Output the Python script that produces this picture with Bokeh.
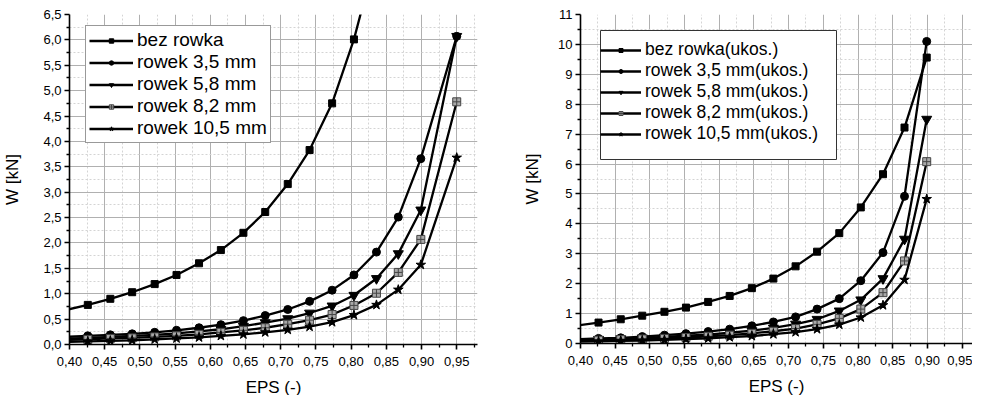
from bokeh.plotting import figure
from bokeh.models import (FixedTicker, Legend, LegendItem, ColumnDataSource,
                          BoxAnnotation, Range1d, CustomJSTickFormatter)
from bokeh.layouts import row
from bokeh.embed import file_html
from bokeh.resources import INLINE

FONT = "Liberation Sans"

# ---------------- data ----------------
eps_left = [0.395, 0.426, 0.458, 0.489, 0.521, 0.552, 0.584, 0.615, 0.647,
            0.678, 0.710, 0.741, 0.773, 0.804, 0.836, 0.867, 0.899, 0.950]
bez_rowka = [0.68, 0.78, 0.90, 1.03, 1.19, 1.37, 1.60, 1.86, 2.20, 2.61,
             3.16, 3.83, 4.75, 6.01, 7.70]
rowek_35 = [0.15, 0.17, 0.19, 0.21, 0.24, 0.28, 0.33, 0.39, 0.47, 0.57,
            0.69, 0.85, 1.07, 1.37, 1.82, 2.51, 3.66, 6.07]
rowek_58 = [0.11, 0.13, 0.15, 0.17, 0.19, 0.22, 0.26, 0.30, 0.36, 0.43,
            0.51, 0.62, 0.76, 0.97, 1.30, 1.79, 2.65, 6.07]
rowek_82 = [0.09, 0.10, 0.12, 0.13, 0.15, 0.17, 0.20, 0.24, 0.28, 0.33,
            0.40, 0.48, 0.59, 0.77, 1.01, 1.42, 2.07, 4.78]
rowek_105 = [0.05, 0.06, 0.07, 0.08, 0.10, 0.12, 0.14, 0.17, 0.20, 0.24,
             0.29, 0.35, 0.44, 0.58, 0.78, 1.08, 1.57, 3.68]

eps_right = [0.395, 0.426, 0.458, 0.489, 0.521, 0.552, 0.584, 0.615, 0.647,
             0.678, 0.710, 0.741, 0.773, 0.804, 0.836, 0.867, 0.899]
bez_rowka_u = [0.60, 0.70, 0.81, 0.93, 1.06, 1.20, 1.39, 1.59, 1.85, 2.17,
               2.58, 3.07, 3.69, 4.55, 5.66, 7.22, 9.56]
rowek_35_u = [0.14, 0.17, 0.19, 0.23, 0.28, 0.33, 0.40, 0.48, 0.59, 0.72,
              0.89, 1.15, 1.50, 2.10, 3.04, 4.92, 10.10]
rowek_58_u = [0.12, 0.14, 0.16, 0.19, 0.22, 0.26, 0.30, 0.36, 0.43, 0.52,
              0.65, 0.81, 1.09, 1.46, 2.17, 3.49, 7.50]
rowek_82_u = [0.10, 0.11, 0.13, 0.15, 0.17, 0.20, 0.24, 0.28, 0.34, 0.41,
              0.50, 0.64, 0.84, 1.15, 1.70, 2.76, 6.08]
rowek_105_u = [0.06, 0.07, 0.09, 0.10, 0.12, 0.15, 0.17, 0.21, 0.25, 0.31,
               0.38, 0.48, 0.63, 0.87, 1.28, 2.13, 4.83]

labels_left = ["bez rowka", "rowek 3,5 mm", "rowek 5,8 mm", "rowek 8,2 mm",
               "rowek 10,5 mm"]
labels_right = ["bez rowka(ukos.)", "rowek 3,5 mm(ukos.)", "rowek 5,8 mm(ukos.)",
                "rowek 8,2 mm(ukos.)", "rowek 10,5 mm(ukos.)"]

x_ticks = [0.40, 0.45, 0.50, 0.55, 0.60, 0.65, 0.70, 0.75, 0.80, 0.85, 0.90, 0.95]
x_minor = [0.425, 0.475, 0.525, 0.575, 0.625, 0.675, 0.725, 0.775, 0.825,
           0.875, 0.925, 0.975]
yl_ticks = [0.0, 0.5, 1.0, 1.5, 2.0, 2.5, 3.0, 3.5, 4.0, 4.5, 5.0, 5.5, 6.0, 6.5]
yl_minor = [0.25, 0.75, 1.25, 1.75, 2.25, 2.75, 3.25, 3.75, 4.25, 4.75, 5.25,
            5.75, 6.25]
yr_ticks = [0, 1, 2, 3, 4, 5, 6, 7, 8, 9, 10, 11]
yr_minor = [0.5, 1.5, 2.5, 3.5, 4.5, 5.5, 6.5, 7.5, 8.5, 9.5, 10.5]

# ---------------- styles ----------------
STYLES = [
    dict(marker="square", fill_color="black", line_color="black", size=7),
    dict(marker="circle", fill_color="black", line_color="black", size=8),
    dict(marker="inverted_triangle", fill_color="black", line_color="black", size=10),
    dict(marker="square_cross", fill_color="#a8a8a8", line_color="#444444", size=8),
    dict(marker="star", fill_color="black", line_color="black", size=10),
]


def style_fig(p, xt, xm, yt, ym, yfmt):
    p.outline_line_color = None
    p.background_fill_color = "white"
    p.border_fill_color = "white"
    p.xaxis.ticker = FixedTicker(ticks=xt, minor_ticks=xm)
    p.yaxis.ticker = FixedTicker(ticks=yt, minor_ticks=ym)
    p.xaxis.formatter = CustomJSTickFormatter(code="return tick.toFixed(2).replace('.', ',');")
    p.yaxis.formatter = CustomJSTickFormatter(code="return tick.toFixed(%d).replace('.', ',');" % yfmt)
    for ax in (p.xaxis, p.yaxis):
        ax.axis_line_width = 1.6
        ax.axis_line_color = "black"
        ax.major_tick_line_width = 1.6
        ax.minor_tick_line_width = 1.3
        ax.major_tick_out = 5
        ax.major_tick_in = 0
        ax.minor_tick_out = 3
        ax.minor_tick_in = 0
        ax.major_label_text_font = FONT
        ax.major_label_text_font_size = "13px"
        ax.major_label_text_color = "black"
        ax.axis_label_text_font = FONT
        ax.axis_label_text_font_size = "17px"
        ax.axis_label_text_font_style = "normal"
        ax.axis_label_text_color = "black"
        ax.major_label_standoff = 3
    p.xaxis.major_label_standoff = 7
    p.xaxis.axis_label_standoff = 9
    p.yaxis.axis_label_standoff = 18
    for g in (p.xgrid, p.ygrid):
        g.grid_line_color = "#b0b0b0"
        g.grid_line_width = 1
        g.minor_grid_line_color = "#d4d4d4"
        g.minor_grid_line_dash = "2 2"
        g.minor_grid_line_width = 1


def add_series(p, x, ys, labels):
    items = []
    for y, lab, st in zip(ys, labels, STYLES):
        xx = x[:len(y)]
        src = ColumnDataSource(dict(x=xx, y=y))
        ln = p.line("x", "y", source=src, line_color="black", line_width=2.3,
                    line_join="round")
        msrc = ColumnDataSource(dict(x=xx[1:], y=y[1:]))
        mk = p.scatter("x", "y", source=msrc, marker=st["marker"], size=st["size"],
                       fill_color=st["fill_color"], line_color=st["line_color"],
                       line_width=1)
        items.append(LegendItem(label=lab, renderers=[ln, mk]))
    return items


# ---------------- left figure ----------------
pl = figure(width=482, height=386, output_backend="svg", toolbar_location=None,
            x_range=Range1d(0.40, 0.9795), y_range=Range1d(0, 6.5),
            min_border_left=64, min_border_right=10, min_border_top=10,
            min_border_bottom=46, x_axis_label="EPS (-)", y_axis_label="W [kN]")
pl.frame_width = 408
pl.frame_height = 330
style_fig(pl, x_ticks, x_minor, yl_ticks, yl_minor, 1)
items_l = add_series(pl, eps_left,
                     [bez_rowka, rowek_35, rowek_58, rowek_82, rowek_105],
                     labels_left)
leg_l = Legend(items=items_l, location=(16, 201), label_text_font=FONT,
               label_text_font_size="19px", label_text_color="black",
               glyph_width=44, glyph_height=11, label_height=20, spacing=0,
               padding=3, margin=0, label_standoff=4,
               border_line_color="#333333", border_line_width=1,
               background_fill_color="white", background_fill_alpha=1)
pl.add_layout(leg_l)

# ---------------- right figure ----------------
pr = figure(width=485, height=386, output_backend="svg", toolbar_location=None,
            x_range=Range1d(0.40, 0.965), y_range=Range1d(0, 11),
            min_border_left=93, min_border_right=0, min_border_top=14,
            min_border_bottom=43, x_axis_label="EPS (-)", y_axis_label="W [kN]")
pr.frame_width = 392
pr.frame_height = 329
style_fig(pr, x_ticks, x_minor, yr_ticks, yr_minor, 0)
pr.yaxis.axis_label_standoff = 13
items_r = add_series(pr, eps_right,
                     [bez_rowka_u, rowek_35_u, rowek_58_u, rowek_82_u, rowek_105_u],
                     labels_right)
box_r = BoxAnnotation(left=20, right=256, top=313, bottom=184,
                      left_units="screen", right_units="screen",
                      top_units="screen", bottom_units="screen",
                      fill_color="white", fill_alpha=1,
                      line_color="#333333", line_width=1, line_alpha=1)
pr.add_layout(box_r)
leg_r = Legend(items=items_r, location=(20, 199), label_text_font=FONT,
               label_text_font_size="17.5px", label_text_color="black",
               glyph_width=41, glyph_height=10, label_height=19, spacing=0,
               padding=2, margin=0, label_standoff=4,
               border_line_color=None, background_fill_alpha=0)
pr.add_layout(leg_r)

layout = row(pl, pr)
open("out.html", "w").write(file_html(layout, INLINE))
